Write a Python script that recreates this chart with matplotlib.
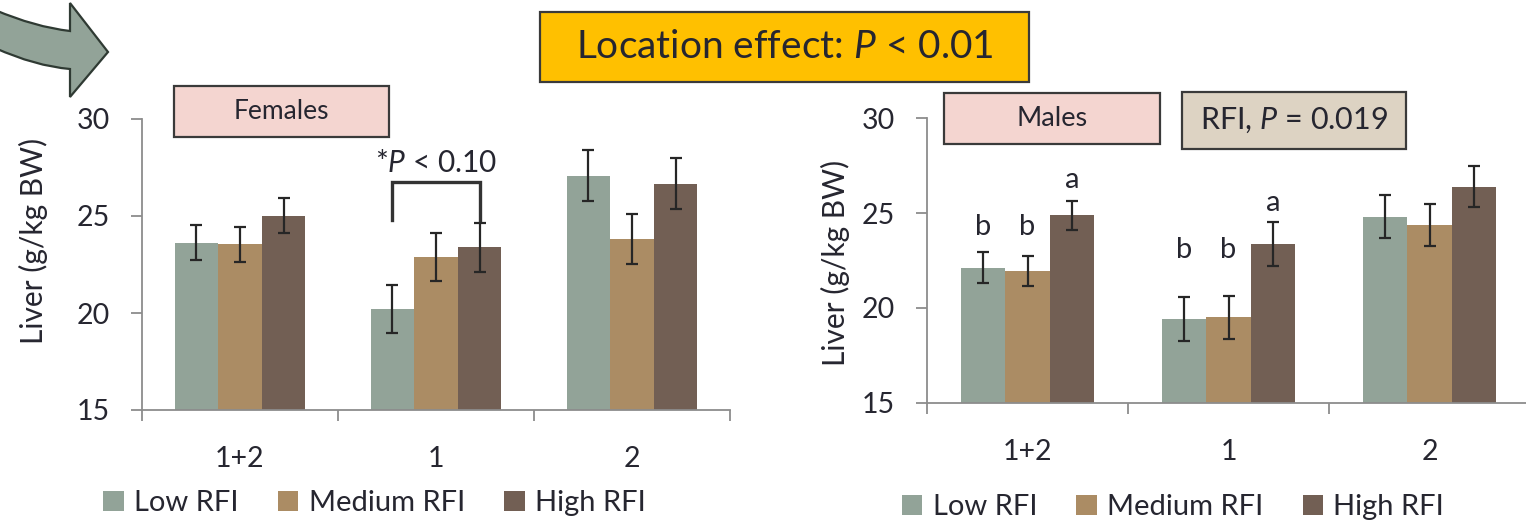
import numpy as np
import matplotlib
matplotlib.use("Agg")
import matplotlib.pyplot as plt
from matplotlib.patches import Rectangle, Patch, PathPatch
from matplotlib.path import Path

plt.rcParams['font.family'] = ['Lato', 'DejaVu Sans']
plt.rcParams['mathtext.fontset'] = 'custom'
plt.rcParams['mathtext.rm'] = 'Lato'
plt.rcParams['mathtext.it'] = 'Lato:italic'

# ---------------- data ----------------
categories = ["1+2", "1", "2"]
series = ["Low RFI", "Medium RFI", "High RFI"]
colors = ["#92A398", "#AB8C64", "#725F54"]

female_low = [23.63, 20.19, 27.08]
female_med = [23.54, 22.90, 23.80]
female_high = [25.02, 23.38, 26.67]
female_low_err = [0.90, 1.23, 1.30]
female_med_err = [0.91, 1.24, 1.30]
female_high_err = [0.90, 1.27, 1.30]

male_low = [22.12, 19.41, 24.81]
male_med = [21.95, 19.50, 24.37]
male_high = [24.88, 23.37, 26.40]
male_low_err = [0.81, 1.14, 1.14]
male_med_err = [0.81, 1.14, 1.11]
male_high_err = [0.76, 1.15, 1.10]

male_letters = [["b", "b", "a"], ["b", "b", "a"]]
yticks = [15, 20, 25, 30]

TXT = "#262630"
W, H = 1526, 522
fig = plt.figure(figsize=(W / 100, H / 100), dpi=100)


def px_rect(x0, y0, x1, y1):
    return [x0 / W, 1 - y1 / H, (x1 - x0) / W, (y1 - y0) / H]


bw = 0.222


def draw_panel(ax, vals, errs):
    x = np.arange(len(categories))
    for i, (v, e, c) in enumerate(zip(vals, errs, colors)):
        pos = x + (i - 1) * bw
        ax.bar(pos, np.array(v) - 15, bw, bottom=15, color=c, zorder=2)
        ax.errorbar(pos, v, yerr=e, fmt='none', ecolor="#262626",
                    elinewidth=1.6, capsize=4, capthick=1.6, zorder=3)
    ax.set_ylim(15, 30)
    ax.set_xlim(-0.5, 2.5)
    ax.set_yticks(yticks)
    ax.set_xticks(x)
    ax.set_xticklabels(categories)
    ax.set_xticks(np.arange(-0.5, 3, 1), minor=True)
    for s in ["top", "right"]:
        ax.spines[s].set_visible(False)
    for s in ["left", "bottom"]:
        ax.spines[s].set_color("#8c8c8c")
        ax.spines[s].set_linewidth(1.3)
    ax.tick_params(axis='y', length=8, width=1.3, color="#8c8c8c",
                   labelsize=20.5, labelcolor=TXT, pad=15)
    ax.tick_params(axis='x', which='major', length=0, labelsize=20.5,
                   labelcolor=TXT, pad=26)
    ax.tick_params(axis='x', which='minor', length=8, width=1.3,
                   color="#8c8c8c")
    ax.set_facecolor("none")


ax1 = fig.add_axes(px_rect(142, 119, 730, 410))
draw_panel(ax1, [female_low, female_med, female_high],
           [female_low_err, female_med_err, female_high_err])

ax2 = fig.add_axes(px_rect(927, 118.3, 1530, 402.7))
draw_panel(ax2, [male_low, male_med, male_high],
           [male_low_err, male_med_err, male_high_err])

# y labels
fig.text(33.5 / W, 1 - 241 / H, "Liver (g/kg BW)", rotation=90,
         ha='center', va='center', fontsize=21.5, color=TXT)
fig.text(835.5 / W, 1 - 263 / H, "Liver (g/kg BW)", rotation=90,
         ha='center', va='center', fontsize=21.5, color=TXT)

# bracket in females, location 1
yb_top, yb_bot = 26.75, 24.8
ax1.plot([1 - bw, 1 - bw, 1 + bw, 1 + bw], [yb_bot, yb_top, yb_top, yb_bot],
         color="#333333", lw=2.4, solid_joinstyle='miter', zorder=4)
ax1.text(1, 27.75, "*$P$ < 0.10", ha='center', va='center', fontsize=21.5,
         color=TXT)

# significance letters for males
letter_base = [[23.85, 23.85, 26.33], [22.64, 22.64, 25.13]]
for g, (lets, ys) in enumerate(zip(male_letters, letter_base)):
    for i, (l, yy) in enumerate(zip(lets, ys)):
        ax2.text(g + (i - 1) * bw, yy, l, ha='center', va='baseline',
                 fontsize=21, color=TXT)

# legends
handles = [Patch(facecolor=c, edgecolor='none') for c in colors]
for cx, cy in [(374.5, 503), (1173, 507)]:
    fig.legend(handles, series, loc='center',
               bbox_to_anchor=(cx / W, 1 - cy / H), ncol=3, frameon=False,
               fontsize=21, handlelength=0.7, handleheight=0.7,
               handletextpad=0.35, columnspacing=1.35, borderpad=0,
               labelcolor=TXT)

# overlay for boxes and arrow
ov = fig.add_axes([0, 0, 1, 1], zorder=10)
ov.set_xlim(0, W)
ov.set_ylim(H, 0)
ov.axis('off')
ov.patch.set_alpha(0)


def box(x0, y0, x1, y1, fc, text, fs):
    ov.add_patch(Rectangle((x0, y0), x1 - x0, y1 - y0, facecolor=fc,
                           edgecolor="#3a3a3a", lw=1.6))
    ov.text((x0 + x1) / 2, (y0 + y1) / 2, text, ha='center', va='center',
            fontsize=fs, color=TXT)


box(540, 12, 1029, 82, "#FFC000", "Location effect: $P$ < 0.01", 28)
box(174, 86, 389, 137, "#F4D5D0", "Females", 19)
box(944, 93, 1160, 144, "#F4D5D0", "Males", 19.5)
box(1182, 92, 1406, 149, "#DDD3C3", "RFI, $P$ = 0.019", 22)

# decorative curved arrow (top-left)
verts = [(-5, 10), (35, 27), (70, 31), (70, 3), (108, 52), (70, 97),
         (70, 69), (35, 66), (-5, 48), (-5, 10)]
codes = [Path.MOVETO, Path.CURVE3, Path.CURVE3, Path.LINETO, Path.LINETO,
         Path.LINETO, Path.LINETO, Path.CURVE3, Path.CURVE3, Path.CLOSEPOLY]
ov.add_patch(PathPatch(Path(verts, codes), facecolor="#92A398",
                       edgecolor="#2f3a33", lw=1.6, joinstyle='miter'))

fig.savefig("out.png", dpi=100)
